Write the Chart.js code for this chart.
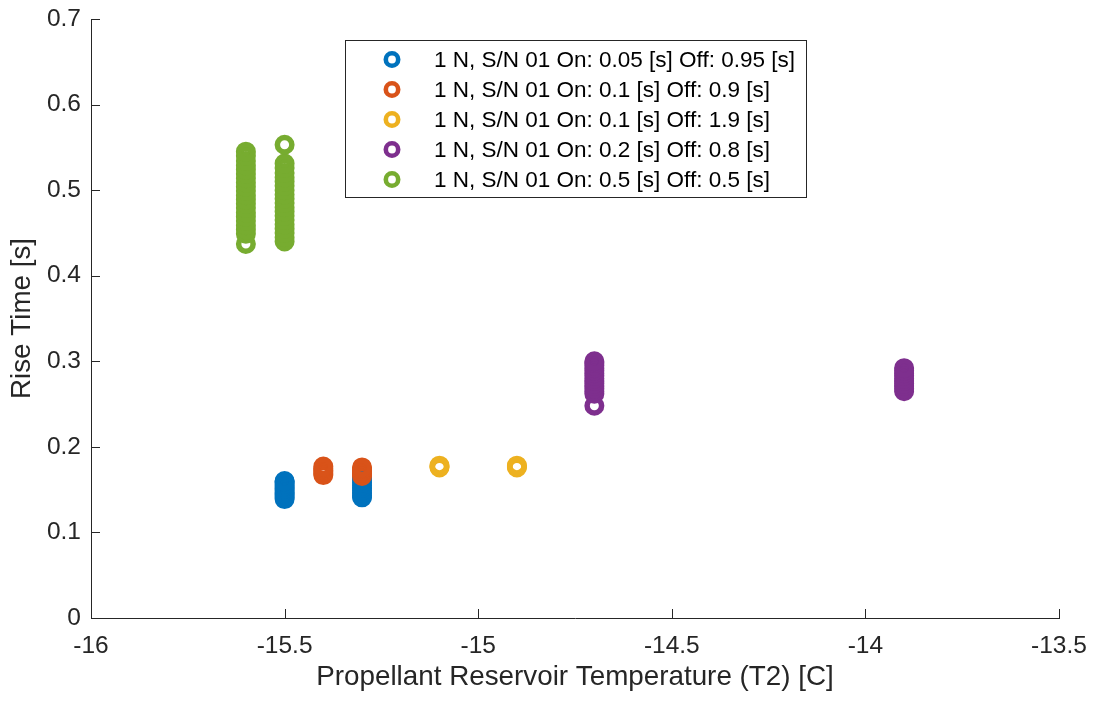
<!DOCTYPE html>
<html>
<head>
<meta charset="utf-8">
<script src="https://cdn.jsdelivr.net/npm/chart.js@4/dist/chart.umd.min.js"></script>
<style>
html,body{margin:0;padding:0;background:#fff;}
#wrap{width:1094px;height:702px;position:relative;}
</style>
</head>
<body>
<div id="wrap"><canvas id="c" width="1094" height="702"></canvas></div>
<script>
// ---- data ----
const seriesLabels = [
  "1 N, S/N 01 On: 0.05 [s] Off: 0.95 [s]",
  "1 N, S/N 01 On: 0.1 [s] Off: 0.9 [s]",
  "1 N, S/N 01 On: 0.1 [s] Off: 1.9 [s]",
  "1 N, S/N 01 On: 0.2 [s] Off: 0.8 [s]",
  "1 N, S/N 01 On: 0.5 [s] Off: 0.5 [s]"
];
const seriesColors = ["#0072BD", "#D95319", "#EDB120", "#7E2F8E", "#77AC30"];

// On 0.05 / Off 0.95
const blueX = [-15.5,-15.5,-15.5,-15.5,-15.5,-15.5,-15.5,-15.5,-15.5,-15.5,-15.5,-15.5,
               -15.3,-15.3,-15.3,-15.3,-15.3,-15.3,-15.3,-15.3,-15.3,-15.3,-15.3];
const blueY = [0.139,0.141,0.143,0.145,0.147,0.149,0.151,0.153,0.155,0.157,0.159,0.160,
               0.141,0.143,0.146,0.149,0.152,0.155,0.158,0.161,0.164,0.166,0.168];
// On 0.1 / Off 0.9
const orangeX = [-15.4,-15.4,-15.4,-15.4,-15.4,-15.4, -15.3,-15.3,-15.3,-15.3,-15.3,-15.3];
const orangeY = [0.167,0.169,0.171,0.173,0.175,0.177, 0.166,0.168,0.170,0.172,0.174,0.176];
// On 0.1 / Off 1.9
const yellowX = [-15.1,-15.1,-15.1, -14.9,-14.9,-14.9];
const yellowY = [0.176,0.177,0.178, 0.176,0.177,0.178];
// On 0.2 / Off 0.8
const purpleX = [-14.7,-14.7,-14.7,-14.7,-14.7, -14.7,-14.7,-14.7,-14.7,-14.7, -14.7,-14.7,-14.7,-14.7,-14.7,
                 -13.9,-13.9,-13.9,-13.9,-13.9, -13.9,-13.9,-13.9,-13.9,-13.9];
const purpleY = [0.248,0.262,0.265,0.268,0.271, 0.274,0.277,0.280,0.283,0.286, 0.289,0.292,0.295,0.298,0.300,
                 0.265,0.268,0.271,0.274,0.277, 0.280,0.283,0.286,0.289,0.292];
// On 0.5 / Off 0.5
const greenX = [-15.6,-15.6,-15.6,-15.6,-15.6, -15.6,-15.6,-15.6,-15.6,-15.6,
                -15.6,-15.6,-15.6,-15.6,-15.6, -15.6,-15.6,-15.6,-15.6,-15.6,
                -15.6,
                -15.5,-15.5,-15.5,-15.5,-15.5, -15.5,-15.5,-15.5,-15.5,-15.5,
                -15.5,-15.5,-15.5,-15.5,-15.5, -15.5,-15.5,-15.5,-15.5,-15.5];
const greenY = [0.437,0.449,0.454,0.459,0.464, 0.469,0.474,0.479,0.484,0.489,
                0.494,0.499,0.504,0.509,0.514, 0.519,0.524,0.529,0.534,0.540,
                0.545,
                0.440,0.445,0.450,0.455,0.460, 0.465,0.470,0.475,0.480,0.485,
                0.490,0.495,0.500,0.505,0.510, 0.515,0.520,0.526,0.531,0.553];

const seriesX = [blueX, orangeX, yellowX, purpleX, greenX];
const seriesY = [blueY, orangeY, yellowY, purpleY, greenY];

const xTicks = [-16, -15.5, -15, -14.5, -14, -13.5];
const xTickLabels = ["-16", "-15.5", "-15", "-14.5", "-14", "-13.5"];
const yTicks = [0, 0.1, 0.2, 0.3, 0.4, 0.5, 0.6, 0.7];
const yTickLabels = ["0", "0.1", "0.2", "0.3", "0.4", "0.5", "0.6", "0.7"];

const xTitle = "Propellant Reservoir Temperature (T2) [C]";
const yTitle = "Rise Time [s]";

// ---- chart ----
const FONT = "'Liberation Sans', Arial, Helvetica, sans-serif";
const AX = "#262626";

const datasets = seriesLabels.map((lab, i) => ({
  label: lab,
  data: seriesX[i].map((x, j) => ({x: x, y: seriesY[i][j]})),
  borderColor: seriesColors[i],
  backgroundColor: 'rgba(0,0,0,0)',
  pointStyle: 'circle',
  pointRadius: 7.25,
  pointHoverRadius: 7.25,
  borderWidth: 5.5,
  pointBorderWidth: 5.5,
  showLine: false,
  order: seriesLabels.length - i
}));

const inwardTicks = {
  id: 'inwardTicks',
  afterDatasetsDraw(chart) {
    const ctx = chart.ctx;
    const xs = chart.scales.x, ys = chart.scales.y;
    const ca = chart.chartArea;
    ctx.save();
    ctx.strokeStyle = AX;
    ctx.lineWidth = 1;
    ctx.beginPath();
    xs.ticks.forEach(t => {
      const px = Math.round(xs.getPixelForValue(t.value)) + 0.5;
      ctx.moveTo(px, ca.bottom);
      ctx.lineTo(px, ca.bottom - 9);
    });
    ys.ticks.forEach(t => {
      const py = Math.round(ys.getPixelForValue(t.value)) + 0.5;
      ctx.moveTo(ca.left, py);
      ctx.lineTo(ca.left + 9, py);
    });
    ctx.stroke();
    ctx.restore();
  }
};

const boxLegend = {
  id: 'boxLegend',
  afterDraw(chart) {
    const ctx = chart.ctx;
    const left = 345.5, top = 40.5, w = 461, h = 157;
    ctx.save();
    ctx.fillStyle = '#fff';
    ctx.fillRect(left, top, w, h);
    ctx.strokeStyle = AX;
    ctx.lineWidth = 1;
    ctx.strokeRect(left, top, w, h);
    ctx.font = "22.5px " + FONT;
    ctx.textBaseline = 'middle';
    ctx.textAlign = 'left';
    chart.data.datasets.forEach((ds, i) => {
      const cy = 59.5 + i * 30;
      ctx.beginPath();
      ctx.arc(392, cy, 6.2, 0, Math.PI * 2);
      ctx.strokeStyle = ds.borderColor;
      ctx.lineWidth = 4.6;
      ctx.stroke();
      ctx.fillStyle = '#000';
      ctx.fillText(ds.label, 434, cy + 1);
    });
    ctx.restore();
  }
};

new Chart(document.getElementById('c'), {
  type: 'scatter',
  data: { datasets },
  options: {
    responsive: false,
    animation: false,
    devicePixelRatio: 1,
    layout: { padding: { top: 19, right: 35, left: 0, bottom: 0 } },
    plugins: {
      legend: { display: false },
      tooltip: { enabled: false }
    },
    scales: {
      x: {
        type: 'linear',
        min: -16, max: -13.5,
        afterBuildTicks: s => { s.ticks = xTicks.map(v => ({value: v})); },
        afterFit: s => { s.height = 84; s.paddingLeft = 0; s.paddingRight = 0; },
        grid: { display: false, drawTicks: false, tickLength: 0 },
        border: { display: true, color: AX, width: 1 },
        ticks: {
          color: AX,
          padding: 14,
          maxRotation: 0,
          font: { family: FONT, size: 24.5 },
          callback: (v) => { const k = xTicks.indexOf(v); return k >= 0 ? xTickLabels[k] : ''; }
        },
        title: {
          display: true, text: xTitle, color: AX,
          font: { family: FONT, size: 27.8 },
          padding: { top: 0, bottom: 8 }
        }
      },
      y: {
        type: 'linear',
        min: 0, max: 0.7,
        afterBuildTicks: s => { s.ticks = yTicks.map(v => ({value: v})); },
        afterFit: s => { s.width = 91; s.paddingTop = 0; s.paddingBottom = 0; },
        grid: { display: false, drawTicks: false, tickLength: 0 },
        border: { display: true, color: AX, width: 1 },
        ticks: {
          color: AX,
          padding: 10,
          font: { family: FONT, size: 24.5 },
          callback: (v) => { const k = yTicks.findIndex(t => Math.abs(t - v) < 1e-9); return k >= 0 ? yTickLabels[k] : ''; }
        },
        title: {
          display: true, text: yTitle, color: AX,
          font: { family: FONT, size: 27.8 },
          padding: { top: 6, bottom: 0 }
        }
      }
    }
  },
  plugins: [inwardTicks, boxLegend]
});
</script>
</body>
</html>
